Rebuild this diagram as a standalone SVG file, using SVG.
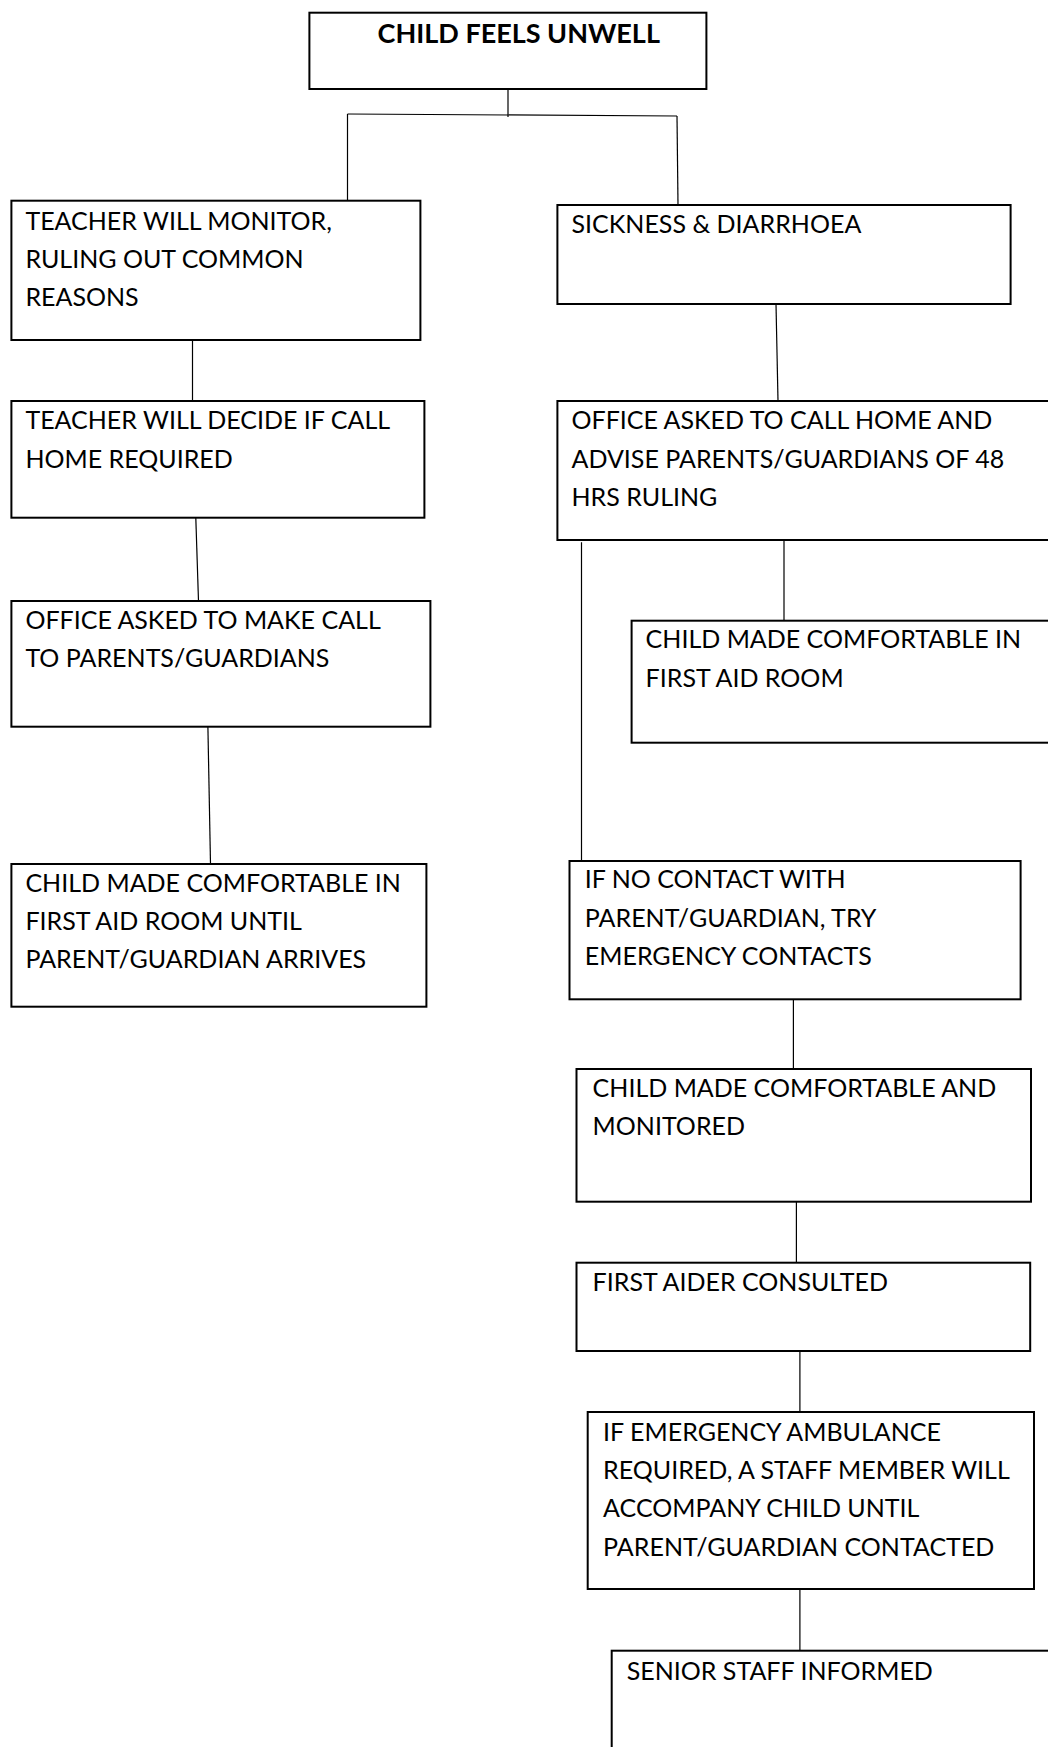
<svg xmlns="http://www.w3.org/2000/svg" width="1048" height="1747" viewBox="0 0 1048 1747">
<style>
.box{fill:#fff;stroke:#000;stroke-width:2}
.t{font-family:Lato,"Liberation Sans",sans-serif;font-size:25px;fill:#000}
.b{font-weight:bold;font-size:27px}
.c{fill:none;stroke:#000;stroke-width:1.2}
</style>
<rect width="1048" height="1747" fill="#fff"/>
<g id="connectors">
<path class="c" d="M508 89V117"/>
<path class="c" d="M347.5 114L677 116"/>
<path class="c" d="M347.5 114V200.7"/>
<path class="c" d="M677 116L678 205"/>
<path class="c" d="M192.5 340V401"/>
<path class="c" d="M776 304L778 401"/>
<path class="c" d="M195.8 517.7L198.5 601"/>
<path class="c" d="M784 540V620.7"/>
<path class="c" d="M581.5 542.3V861"/>
<path class="c" d="M207.9 726.7L210.5 864"/>
<path class="c" d="M793.4 999.3V1069"/>
<path class="c" d="M796.4 1201.7V1262.7"/>
<path class="c" d="M799.9 1351V1412"/>
<path class="c" d="M799.9 1589V1650.7"/>
</g>
<g id="n0"><rect class="box" x="309.4" y="12.7" width="397" height="76.3"/><text class="t b" x="377.6" y="43.3">CHILD FEELS UNWELL</text></g>
<g id="n1"><rect class="box" x="11.4" y="200.7" width="409" height="139.3"/><text class="t" x="25.4" y="230">TEACHER WILL MONITOR,</text><text class="t" x="25.4" y="268.3">RULING OUT COMMON</text><text class="t" x="25.4" y="306.3">REASONS</text></g>
<g id="n2"><rect class="box" x="557.4" y="205" width="453.2" height="99"/><text class="t" x="571.5" y="233">SICKNESS &amp; DIARRHOEA</text></g>
<g id="n3"><rect class="box" x="11.4" y="401" width="413" height="116.7"/><text class="t" x="25.4" y="429.3">TEACHER WILL DECIDE IF CALL</text><text class="t" x="25.4" y="467.7">HOME REQUIRED</text></g>
<g id="n4"><rect class="box" x="557.4" y="401" width="500" height="139"/><text class="t" x="571.5" y="429.3">OFFICE ASKED TO CALL HOME AND</text><text class="t" x="571.5" y="467.7">ADVISE PARENTS/GUARDIANS OF 48</text><text class="t" x="571.5" y="505.7">HRS RULING</text></g>
<g id="n5"><rect class="box" x="11.4" y="601" width="419" height="125.7"/><text class="t" x="25.4" y="628.7">OFFICE ASKED TO MAKE CALL</text><text class="t" x="25.4" y="666.7">TO PARENTS/GUARDIANS</text></g>
<g id="n6"><rect class="box" x="631.6" y="620.7" width="430" height="122"/><text class="t" x="645.6" y="648.3">CHILD MADE COMFORTABLE IN</text><text class="t" x="645.6" y="686.7">FIRST AID ROOM</text></g>
<g id="n7"><rect class="box" x="11.4" y="864" width="415" height="142.7"/><text class="t" x="25.4" y="891.7">CHILD MADE COMFORTABLE IN</text><text class="t" x="25.4" y="930">FIRST AID ROOM UNTIL</text><text class="t" x="25.4" y="968.3">PARENT/GUARDIAN ARRIVES</text></g>
<g id="n8"><rect class="box" x="569.5" y="861" width="451.1" height="138.3"/><text class="t" x="584.8" y="888.3">IF NO CONTACT WITH</text><text class="t" x="584.8" y="926.7">PARENT/GUARDIAN, TRY</text><text class="t" x="584.8" y="965">EMERGENCY CONTACTS</text></g>
<g id="n9"><rect class="box" x="576.5" y="1069" width="454.5" height="132.7"/><text class="t" x="592.6" y="1096.7">CHILD MADE COMFORTABLE AND</text><text class="t" x="592.6" y="1135">MONITORED</text></g>
<g id="n10"><rect class="box" x="576.5" y="1262.7" width="453.7" height="88.3"/><text class="t" x="592.6" y="1290.7">FIRST AIDER CONSULTED</text></g>
<g id="n11"><rect class="box" x="587.7" y="1412" width="446.3" height="177"/><text class="t" x="603.1" y="1440.7">IF EMERGENCY AMBULANCE</text><text class="t" x="603.1" y="1479">REQUIRED, A STAFF MEMBER WILL</text><text class="t" x="603.1" y="1517.3">ACCOMPANY CHILD UNTIL</text><text class="t" x="603.1" y="1556">PARENT/GUARDIAN CONTACTED</text></g>
<g id="n12"><rect class="box" x="611.7" y="1650.7" width="460" height="120"/><text class="t" x="626.7" y="1680">SENIOR STAFF INFORMED</text></g>
</svg>
